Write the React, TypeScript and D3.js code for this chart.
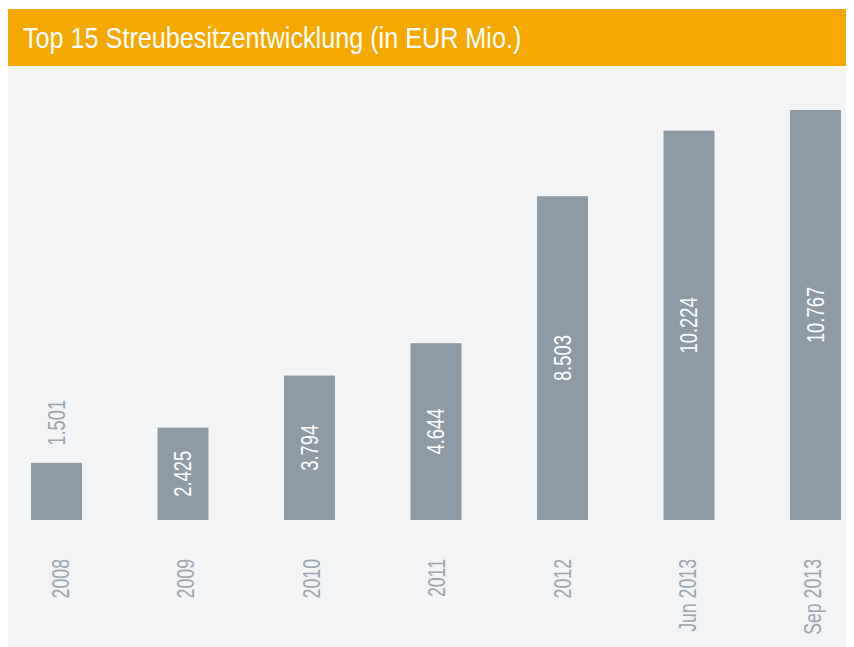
import React from "react";
import * as d3 from "d3";

const title = "Top 15 Streubesitzentwicklung (in EUR Mio.)";
const categories = ["2008", "2009", "2010", "2011", "2012", "Jun 2013", "Sep 2013"];
const values = [1.501, 2.425, 3.794, 4.644, 8.503, 10.224, 10.767];
const valueLabels = ["1.501", "2.425", "3.794", "4.644", "8.503", "10.224", "10.767"];

const W = 854;
const H = 647;
const FONT = "'Liberation Sans', Arial, Helvetica, sans-serif";
const SX = 0.8; // horizontal condensing of glyphs
const FS = 23;

export default function App() {
  const x = d3.scaleBand<string>().domain(categories).range([31, 841]).paddingInner(0.597).paddingOuter(0);
  const xl = d3.scalePoint<string>().domain(categories).range([60.5, 813]);
  const y = d3.scaleLinear().domain([0, 10.767]).range([520, 110]);
  const charW = FS * 0.556 * SX;

  return (
    <svg width={W - 8} height={H - 8} style={{ display: "block" }}>
      <g transform="translate(-8,-8)">
        <rect x={8} y={66} width={W - 8} height={H - 66} fill="#f3f4f6" />
        <rect x={8} y={9} width={W - 8} height={57} fill="#f5a800" />
        <text
          transform={`translate(23,48) scale(0.84,1)`}
          fontFamily={FONT}
          fontSize={30}
          fill="#ffffff"
        >
          {title}
        </text>
        {categories.map((c, i) => {
          const bx = x(c)!;
          const bw = x.bandwidth();
          const top = y(values[i]);
          const h = y(0) - top;
          const label = valueLabels[i];
          const textLen = label.length * charW;
          const inside = h > textLen + 20;
          const cx = bx + bw / 2;
          return (
            <g key={c}>
              <rect x={bx} y={top} width={bw} height={h} fill="#8e9ba5" />
              {inside ? (
                <text
                  transform={`translate(${cx},${top + h / 2}) rotate(-90) scale(${SX},1)`}
                  textAnchor="middle"
                  dominantBaseline="central"
                  fontFamily={FONT}
                  fontSize={FS}
                  fill="#ffffff"
                >
                  {label}
                </text>
              ) : (
                <text
                  transform={`translate(${cx},${top - 17}) rotate(-90) scale(${SX},1)`}
                  textAnchor="start"
                  dominantBaseline="central"
                  fontFamily={FONT}
                  fontSize={FS}
                  fill="#9aa6b0"
                >
                  {label}
                </text>
              )}
              <text
                transform={`translate(${xl(c)},559) rotate(-90) scale(0.77,1)`}
                textAnchor="end"
                dominantBaseline="central"
                fontFamily={FONT}
                fontSize={FS}
                fill="#9aa6b0"
              >
                {c}
              </text>
            </g>
          );
        })}
      </g>
    </svg>
  );
}
